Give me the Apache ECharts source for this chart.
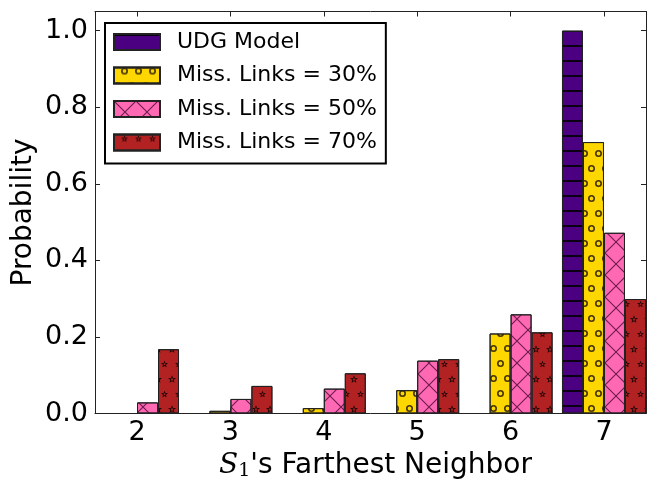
<!DOCTYPE html>
<html>
<head>
<meta charset="utf-8">
<script src="https://cdn.jsdelivr.net/npm/echarts@6/dist/echarts.min.js"></script>
<style>html,body{margin:0;padding:0;background:#fff}#c{width:648px;height:479px}</style>
</head>
<body>
<div id="c"></div>
<script>
const categories = [2, 3, 4, 5, 6, 7];
const seriesNames = ['UDG Model', 'Miss. Links = 30%', 'Miss. Links = 50%', 'Miss. Links = 70%'];
const udgModel = [0, 0, 0, 0, 0, 1.0];
const missLinks30 = [0, 0.007, 0.014, 0.061, 0.209, 0.709];
const missLinks50 = [0.029, 0.038, 0.065, 0.138, 0.259, 0.472];
const missLinks70 = [0.168, 0.072, 0.105, 0.142, 0.212, 0.299];
const yTicks = [0, 0.2, 0.4, 0.6, 0.8, 1.0];

const colors = ['#4B0082', '#FFD700', '#FF69B4', '#B22222'];
const ring = 'path://M0,5A5,5,0,1,0,10,5A5,5,0,1,0,0,5ZM2.3,5A2.7,2.7,0,1,1,7.7,5A2.7,2.7,0,1,1,2.3,5Z';
const star = 'path://M5,0L6.23,3.3L9.76,3.45L7,5.65L7.94,9.05L5,7.1L2.06,9.05L3,5.65L0.24,3.45L3.77,3.3Z' +
  'M5,2.75L4.45,4.24L2.86,4.3L4.1,5.29L3.68,6.82L5,5.95L6.32,6.82L5.9,5.29L7.14,4.3L5.55,4.24Z';
const xpath = 'path://M0,0L0.7,0L20,19.3L20,20L19.3,20L0,0.7ZM20,0.7L0.7,20L0,20L0,19.3L19.3,0L20,0Z';
const decals = [
  {symbol: 'rect', symbolSize: 1, dashArrayX: [1, 0], dashArrayY: [2, 13], color: 'rgba(0,0,0,0.85)'},
  {symbol: ring, symbolSize: 1, dashArrayX: [[7, 7], [0, 7, 7, 0]], dashArrayY: [7, 8], color: 'rgba(50,35,0,0.9)'},
  {symbol: xpath, symbolSize: 1, dashArrayX: [22, 0], dashArrayY: [22, 0], color: 'rgba(60,0,40,0.75)'},
  {symbol: star, symbolSize: 1, dashArrayX: [[8, 6], [0, 7, 7, 0]], dashArrayY: [8, 7], color: 'rgba(0,0,0,0.85)'}
];
const allValues = [udgModel, missLinks30, missLinks50, missLinks70];

const series = allValues.map((vals, i) => ({
  name: seriesNames[i],
  type: 'bar',
  barWidth: 21,
  barGap: '0%',
  data: categories.map((c, j) => [c, vals[j]]),
  itemStyle: {color: colors[i], borderColor: '#222', borderWidth: 1, decal: decals[i]},
  emphasis: {disabled: true}
}));

const font = 'DejaVu Sans';
const chart = echarts.init(document.getElementById('c'), null, {renderer: 'canvas'});
chart.setOption({
  animation: false,
  grid: {left: 95, right: 2, top: 11.5, bottom: 65.5, containLabel: false, outerBoundsMode: 'none'},
  legend: {
    data: seriesNames.map(n => ({name: n, icon: 'rect'})),
    orient: 'vertical',
    left: 105, top: 23,
    itemWidth: 46, itemHeight: 16, itemGap: 11.5,
    padding: [8, 9, 10, 8],
    borderColor: '#000', borderWidth: 2, backgroundColor: '#fff',
    selectedMode: false,
    textStyle: {fontFamily: font, fontSize: 22, color: '#000', padding: [0, 0, 0, 12]}
  },
  xAxis: [{
    type: 'value', min: 1.55, max: 7.45, position: 'bottom',
    name: '{i|S}{sub|1}\'s Farthest Neighbor', nameLocation: 'middle', nameGap: 37, nameMoveOverlap: false,
    nameTextStyle: {fontFamily: font, fontSize: 28, color: '#000', padding: [0, 0, 0, 10],
      rich: {i: {fontFamily: 'DejaVu Serif', fontStyle: 'italic', fontSize: 28, color: '#000'},
             sub: {fontFamily: 'DejaVu Serif', fontSize: 19, color: '#000', padding: [11, 0, 0, 0]}}},
    axisLine: {show: true, onZero: false, lineStyle: {color: '#222', width: 1}},
    axisTick: {show: true, inside: true, length: 5, customValues: categories, lineStyle: {color: '#222'}},
    axisLabel: {customValues: categories, fontFamily: font, fontSize: 27, color: '#000', margin: 6},
    splitLine: {show: false}
  }, {
    type: 'value', min: 1.55, max: 7.45, position: 'top',
    axisLine: {show: true, onZero: false, lineStyle: {color: '#222', width: 1}},
    axisTick: {show: true, inside: true, length: 5, customValues: categories, lineStyle: {color: '#222'}},
    axisLabel: {show: false}, splitLine: {show: false}
  }],
  yAxis: [{
    type: 'value', min: 0, max: 1.05, position: 'left',
    name: 'Probability', nameLocation: 'middle', nameGap: 57, nameRotate: 90, nameMoveOverlap: false,
    nameTextStyle: {fontFamily: font, fontSize: 28, color: '#000'},
    axisLine: {show: true, onZero: false, lineStyle: {color: '#222', width: 1}},
    axisTick: {show: true, inside: true, length: 5, customValues: yTicks, lineStyle: {color: '#222'}},
    axisLabel: {customValues: yTicks, fontFamily: font, fontSize: 27, color: '#000', margin: 7,
      formatter: v => v.toFixed(1)},
    splitLine: {show: false}
  }, {
    type: 'value', min: 0, max: 1.05, position: 'right',
    axisLine: {show: true, onZero: false, lineStyle: {color: '#222', width: 1}},
    axisTick: {show: true, inside: true, length: 5, customValues: yTicks, lineStyle: {color: '#222'}},
    axisLabel: {show: false}, splitLine: {show: false}
  }],
  series: series
});
</script>
</body>
</html>
